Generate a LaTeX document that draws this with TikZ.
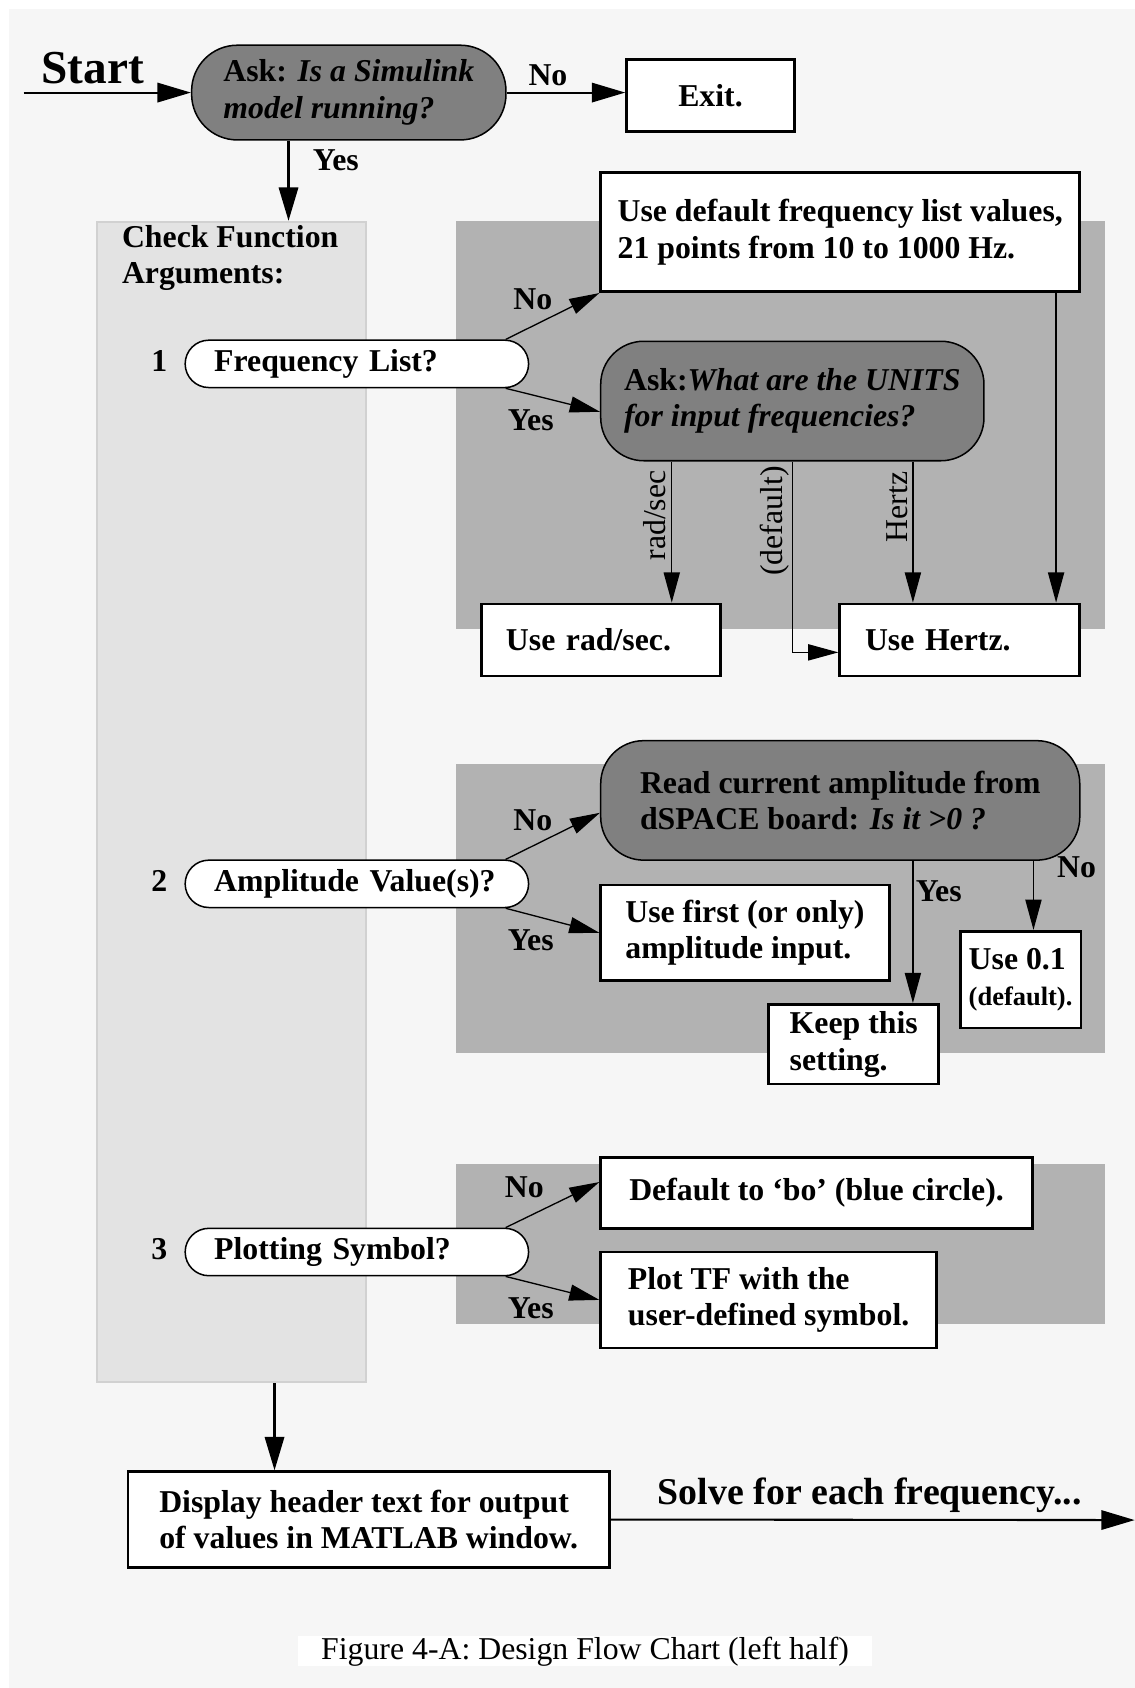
\documentclass[tikz,border=0pt]{standalone}
\usepackage{fontspec}
\setmainfont{Liberation Serif}
\usepackage{tikz}
\usetikzlibrary{arrows.meta}

\definecolor{pagegray}{gray}{0.965}
\definecolor{argsgray}{gray}{0.89}
\definecolor{argsedge}{gray}{0.82}
\definecolor{panelgray}{gray}{0.70}
\definecolor{askgray}{gray}{0.50}

\tikzset{
  txt/.style={font=\fontsize{16.8}{19.3}\selectfont\bfseries, inner sep=0pt},
  answer/.style={txt, draw=black, fill=white, line width=1.4pt, align=left},
  ask/.style={txt, draw=black, fill=askgray, line width=0.8pt, align=left},
  choice/.style={txt, draw=black, fill=white, line width=0.8pt, rounded corners=0.44cm,
    minimum width=6.38cm, minimum height=0.88cm, text width=5.3cm, inner xsep=0.54cm, align=left},
  mainflow/.style={line width=1.1pt, -{Triangle[length=0.62cm,width=0.36cm]}},
  subflow/.style={line width=0.7pt, -{Triangle[length=0.56cm,width=0.30cm]}},
  unitlabel/.style={font=\fontsize{16.8}{19.3}\selectfont, rotate=90, anchor=south east, inner sep=1pt}
}

\begin{document}
\begin{tikzpicture}
\useasboundingbox (0cm,0cm) rectangle (21.08cm,-31.36cm);
\fill [pagegray] (0.16cm,-0.16cm) rectangle (21.08cm,-31.36cm);

\fill [panelgray] (8.48cm,-4.10cm) rectangle (20.52cm,-11.68cm);
\fill [panelgray] (8.48cm,-14.20cm) rectangle (20.52cm,-19.56cm);
\fill [panelgray] (8.48cm,-21.62cm) rectangle (20.52cm,-24.60cm);
\node [draw=argsedge, fill=argsgray, line width=1pt, minimum width=5cm, minimum height=21.56cm] (check) at (4.30cm,-14.90cm) {};
\node [txt, anchor=north west, align=left] (checktxt) at (2.26cm,-4.18cm) {Check Function\\Arguments:};

\node [font=\fontsize{25}{30}\selectfont\bfseries] (starttxt) at (1.72cm,-1.26cm) {Start};
\coordinate (start) at (0.44cm,-1.72cm);
\node [ask, rounded corners=0.85cm, minimum width=5.84cm, minimum height=1.76cm] (asksim) at (6.48cm,-1.72cm) {Ask: \textit{Is a Simulink}\\\textit{model running?}};
\node [answer, minimum width=3.12cm, minimum height=1.34cm] (exit) at (13.20cm,-1.77cm) {Exit.};
\draw [mainflow] (start) -- (asksim);
\draw [mainflow] (asksim.east) -- (asksim.east -| exit.west);
\node [txt] (nosim) at (10.18cm,-1.40cm) {No};
\coordinate (argx) at (5.36cm,0cm);
\draw [mainflow] (asksim.south -| argx) -- (check.north -| argx);
\node [txt] (yessim) at (6.24cm,-2.98cm) {Yes};

\node [answer, minimum width=8.90cm, minimum height=2.22cm] (usedef) at (15.61cm,-4.31cm) {Use default frequency list values,\\21 points from 10 to 1000 Hz.};
\node [choice] (freq) at (6.63cm,-6.76cm) {Frequency List?};
\node [txt] (one) at (2.96cm,-6.70cm) {1};
\node [ask, rounded corners=0.8cm, minimum width=7.12cm, minimum height=2.22cm] (units) at (14.72cm,-7.45cm) {Ask:\textit{What are the UNITS}\\\textit{for input frequencies?}};
\node [answer, text width=3.52cm, inner xsep=0.46cm, minimum height=1.34cm] (rad) at (11.16cm,-11.89cm) {Use rad/sec.};
\node [answer, text width=3.52cm, inner xsep=0.47cm, minimum height=1.34cm] (hertz) at (17.83cm,-11.89cm) {Use Hertz.};
\draw [subflow] ([xshift=-0.44cm]freq.north east) -- (usedef.south west);
\draw [subflow] ([xshift=-0.44cm]freq.south east) -- ([yshift=-0.2cm]units.west);
\node [txt] (nofreq) at (9.90cm,-5.56cm) {No};
\node [txt] (yesfreq) at (9.86cm,-7.80cm) {Yes};
\coordinate (radx) at (12.48cm,0cm);
\coordinate (hzx) at (16.96cm,0cm);
\coordinate (defx) at (19.62cm,0cm);
\draw [subflow] (units.south -| radx) -- (rad.north -| radx);
\draw [subflow] (units.south) |- ([yshift=-0.23cm]hertz.west);
\draw [subflow] (units.south -| hzx) -- (hertz.north -| hzx);
\draw [subflow] (usedef.south -| defx) -- (hertz.north -| defx);
\node [unitlabel] (radlbl) at (12.42cm,-8.70cm) {rad/sec};
\node [unitlabel] (deflbl) at (14.70cm,-8.62cm) {(default)};
\node [unitlabel] (hzlbl) at (16.90cm,-8.72cm) {Hertz};

\node [ask, rounded corners=0.8cm, minimum width=8.90cm, minimum height=2.22cm] (read) at (15.61cm,-14.87cm) {Read current amplitude from\\dSPACE board: \textit{Is it >0 ?}};
\node [choice] (ampl) at (6.63cm,-16.42cm) {Amplitude Value(s)?};
\node [txt] (two) at (2.96cm,-16.36cm) {2};
\node [answer, minimum width=5.36cm, minimum height=1.78cm] (first) at (13.84cm,-17.33cm) {Use first (or only)\\amplitude input.};
\node [answer, minimum width=3.16cm, minimum height=1.48cm] (keep) at (15.86cm,-19.40cm) {Keep this\\setting.};
\node [answer, minimum width=2.24cm, minimum height=1.80cm] (low) at (18.96cm,-18.20cm) {Use 0.1\\{\fontsize{14}{16}\selectfont(default).}};
\draw [subflow] ([xshift=-0.44cm]ampl.north east) -- ([yshift=-0.23cm]read.west);
\draw [subflow] ([xshift=-0.44cm]ampl.south east) -- (first.west);
\node [txt] (noampl) at (9.90cm,-15.24cm) {No};
\node [txt] (yesampl) at (9.86cm,-17.46cm) {Yes};
\coordinate (keepx) at (16.96cm,0cm);
\coordinate (lowx) at (19.20cm,0cm);
\draw [subflow] (read.south -| keepx) -- (keep.north -| keepx);
\draw [subflow] (read.south -| lowx) -- (low.north -| lowx);
\node [txt] (yesread) at (17.44cm,-16.56cm) {Yes};
\node [txt] (noread) at (20.00cm,-16.12cm) {No};

\node [choice] (symb) at (6.63cm,-23.26cm) {Plotting Symbol?};
\node [txt] (three) at (2.96cm,-23.20cm) {3};
\node [answer, minimum width=8.02cm, minimum height=1.32cm] (blue) at (15.17cm,-22.16cm) {Default to ‘bo’ (blue circle).};
\node [answer, minimum width=6.24cm, minimum height=1.78cm] (plottf) at (14.28cm,-24.15cm) {Plot TF with the\\user-defined symbol.};
\draw [subflow] ([xshift=-0.44cm]symb.north east) -- ([yshift=0.2cm]blue.west);
\draw [subflow] ([xshift=-0.44cm]symb.south east) -- (plottf.west);
\node [txt] (nosymb) at (9.74cm,-22.06cm) {No};
\node [txt] (yessymb) at (9.86cm,-24.30cm) {Yes};

\node [answer, minimum width=8.94cm, minimum height=1.78cm] (header) at (6.85cm,-28.23cm) {Display header text for output\\of values in MATLAB window.};
\coordinate (outx) at (5.10cm,0cm);
\draw [mainflow] (check.south -| outx) -- (header.north -| outx);
\coordinate (solve) at (21.08cm,-28.24cm);
\draw [mainflow] (header.east) -- (solve);
\node [font=\fontsize{20}{24}\selectfont\bfseries] (solvetxt) at (16.16cm,-27.78cm) {Solve for each frequency...};

\node [fill=white, minimum width=10.66cm, minimum height=0.56cm, inner sep=0pt, font=\fontsize{16.8}{19.3}\selectfont] (caption) at (10.87cm,-30.68cm) {Figure 4-A: Design Flow Chart (left half)};
\end{tikzpicture}
\end{document}
